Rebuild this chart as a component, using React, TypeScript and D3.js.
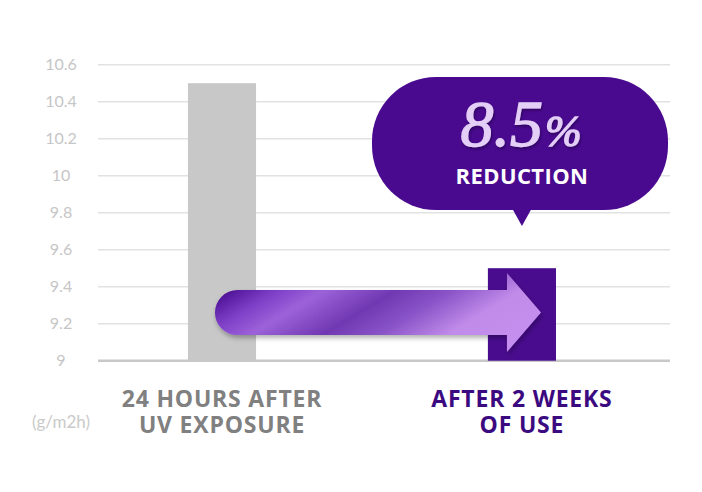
import React, { useRef, useEffect } from 'react';
import * as d3 from 'd3';

// chart values
const categories = ['24 HOURS AFTER|UV EXPOSURE', 'AFTER 2 WEEKS|OF USE'];
const values = [10.5, 9.5];
const barColors = ['#c8c8c8', '#490c8e'];
const labelColors = ['#808080', '#3c0a80'];
const yTicks = [9, 9.2, 9.4, 9.6, 9.8, 10, 10.2, 10.4, 10.6];
const unitLabel = '(g/m2h)';
const calloutValue = '8.5';
const calloutText = 'REDUCTION';

function App() {
  const svgRef = useRef<SVGSVGElement>(null);

  useEffect(() => {
    const svg = d3.select(svgRef.current);
    svg.selectAll('*').remove();

    const width = 702;
    const height = 492;
    const left = 98;
    const right = 670;

    // Scales
    const y = d3.scaleLinear().domain([9, 10.6]).range([360.7, 64.7]);
    const x = d3.scaleBand()
      .domain(categories)
      .range([left, right])
      .paddingInner(0.773)
      .paddingOuter(0.34)
      .align(0.441);

    svg.attr('width', width).attr('height', height);

    const defs = svg.append('defs');

    // arrow gradient
    const grad = defs.append('linearGradient')
      .attr('id', 'arrow-grad')
      .attr('x1', '0%').attr('y1', '30%')
      .attr('x2', '100%').attr('y2', '70%');
    [
      [0, '#4c1094'],
      [0.14, '#7f40c8'],
      [0.26, '#9c62d9'],
      [0.45, '#7038b2'],
      [0.6, '#8a54c8'],
      [0.78, '#c08be9'],
      [1, '#c48fee']
    ].forEach(([o, c]) => {
      grad.append('stop').attr('offset', o as number).attr('stop-color', c as string);
    });

    const shadow = defs.append('filter').attr('id', 'shadow')
      .attr('x', '-10%').attr('y', '-30%').attr('width', '120%').attr('height', '170%');
    shadow.append('feDropShadow')
      .attr('dx', 1).attr('dy', 3).attr('stdDeviation', 2.5)
      .attr('flood-color', '#000').attr('flood-opacity', 0.3);

    const textShadow = defs.append('filter').attr('id', 'tshadow');
    textShadow.append('feDropShadow')
      .attr('dx', 1).attr('dy', 2).attr('stdDeviation', 1.5)
      .attr('flood-color', '#1a0040').attr('flood-opacity', 0.6);

    // Gridlines
    svg.append('g')
      .selectAll('line')
      .data(yTicks)
      .enter().append('line')
      .attr('x1', left)
      .attr('x2', right)
      .attr('y1', d => y(d))
      .attr('y2', d => y(d))
      .attr('stroke', d => (d === 9 ? '#c8c8c8' : '#e2e2e2'))
      .attr('stroke-width', d => (d === 9 ? 2.5 : 1.5));

    // Y tick labels
    svg.append('g')
      .selectAll('text')
      .data(yTicks)
      .enter().append('text')
      .attr('x', 61)
      .attr('y', d => y(d))
      .attr('dy', '0.36em')
      .attr('text-anchor', 'middle')
      .style('font-family', 'Lato, sans-serif')
      .style('font-size', '16px')
      .style('fill', '#c6c6c6')
      .text(d => String(d));

    // Bars
    svg.append('g')
      .selectAll('rect')
      .data(categories)
      .enter().append('rect')
      .attr('x', d => x(d) as number)
      .attr('width', x.bandwidth())
      .attr('y', (d, i) => y(values[i]))
      .attr('height', (d, i) => y(9) - y(values[i]))
      .attr('fill', (d, i) => barColors[i]);

    // Arrow from first bar to second
    const cy = y(9.26);
    const shaftH = 45;
    const headH = 79;
    const xs = (x(categories[0]) as number) + 27;
    const xTip = (x(categories[1]) as number) + x.bandwidth() - 15;
    const xHead = xTip - 34;
    const r = shaftH / 2;
    const arrowPath = d3.path();
    arrowPath.moveTo(xs + r, cy - r);
    arrowPath.lineTo(xHead, cy - r);
    arrowPath.lineTo(xHead, cy - headH / 2);
    arrowPath.lineTo(xTip, cy);
    arrowPath.lineTo(xHead, cy + headH / 2);
    arrowPath.lineTo(xHead, cy + r);
    arrowPath.lineTo(xs + r, cy + r);
    arrowPath.arc(xs + r, cy, r, Math.PI / 2, Math.PI * 1.5);
    arrowPath.closePath();
    svg.append('path')
      .attr('d', arrowPath.toString())
      .attr('fill', 'url(#arrow-grad)')
      .attr('filter', 'url(#shadow)');

    // Callout bubble
    const bx0 = 372;
    const bx1 = 668;
    const by0 = 77;
    const by1 = 210;
    const tailX = (x(categories[1]) as number) + x.bandwidth() / 2;
    const bubble = svg.append('g');
    bubble.append('rect')
      .attr('x', bx0).attr('y', by0)
      .attr('width', bx1 - bx0).attr('height', by1 - by0)
      .attr('rx', 64).attr('ry', 64)
      .attr('fill', '#4a0a90');
    bubble.append('path')
      .attr('d', `M${tailX - 10},${by1 - 2}L${tailX},${226}L${tailX + 10},${by1 - 2}Z`)
      .attr('fill', '#4a0a90');

    const big = bubble.append('text')
      .attr('x', 521)
      .attr('y', 146)
      .attr('text-anchor', 'middle')
      .style('font-family', '"Liberation Serif", serif')
      .style('font-style', 'italic')
      .style('fill', '#e4cff7')
      .style('stroke', '#e4cff7')
      .style('stroke-width', 1.3)
      .attr('filter', 'url(#tshadow)');
    big.append('tspan').style('font-size', '66px').text(calloutValue);
    big.append('tspan').style('font-size', '44px').attr('dx', 2).text('%');

    bubble.append('text')
      .attr('x', 522)
      .attr('y', 184)
      .attr('text-anchor', 'middle')
      .style('font-family', '"Open Sans", sans-serif')
      .style('font-weight', 700)
      .style('font-size', '22px')
      .style('letter-spacing', '0.4px')
      .style('fill', '#ffffff')
      .text(calloutText);

    // Category labels
    const labels = svg.append('g')
      .selectAll('text')
      .data(categories)
      .enter().append('text')
      .attr('text-anchor', 'middle')
      .style('font-family', '"Open Sans", sans-serif')
      .style('font-weight', 700)
      .style('font-size', '23px')
      .style('letter-spacing', '0.8px')
      .style('fill', (d, i) => labelColors[i]);
    labels.each(function (d) {
      const cx = (x(d) as number) + x.bandwidth() / 2;
      d.split('|').forEach((line, j) => {
        d3.select(this).append('tspan')
          .attr('x', cx)
          .attr('y', 407 + j * 26)
          .text(line);
      });
    });

    // Unit label
    svg.append('text')
      .attr('x', 61)
      .attr('y', 428)
      .attr('text-anchor', 'middle')
      .style('font-family', 'Lato, sans-serif')
      .style('font-size', '17px')
      .style('fill', '#cacaca')
      .text(unitLabel);
  }, []);

  return (
    <div style={{ width: 702, height: 492, margin: -8, overflow: 'hidden', background: '#fff' }}>
      <svg ref={svgRef} style={{ display: 'block' }}></svg>
    </div>
  );
}

export default App;
